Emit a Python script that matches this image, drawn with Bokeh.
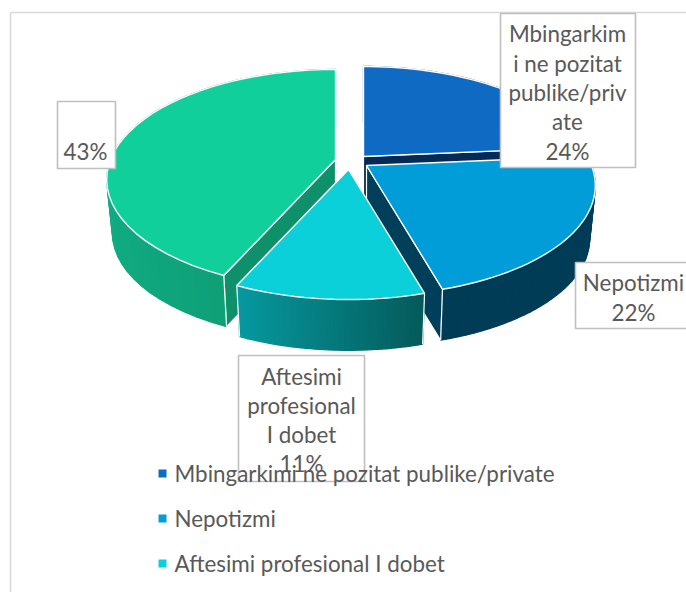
import math
from bokeh.plotting import figure
from bokeh.models import Range1d
from bokeh.core.properties import value
from bokeh.embed import file_html
from bokeh.resources import INLINE

categories = ["Mbingarkimi ne pozitat publike/private", "Nepotizmi", "Aftesimi profesional I dobet", ""]
values = [23.6, 21.9, 11.3, 43.2]
top_colors = ["#0f6ac4", "#009dd9", "#0bd0d9", "#10cf9b"]
face_colors = ["#052a55", "#003f5a", "#04696c", "#0e916b"]
wall_left = ["#0a4a85", "#003c56", "#06999f", "#10ab82"]
wall_right = ["#0a4a85", "#003c56", "#055a5a", "#0d936b"]
legend_items = categories[:3]

FONT = "Lato"
SIZE = "22.4px"
TEXT = "#595959"
W, H = 686, 592

# layout of the exploded slices, in picture pixels
apex = [(363, 156), (366, 165), (348, 169), (335, 159)]
A, B, K = 225.0, 106.4, 0.1818
DEPTH, SHRINK = 54.0, 0.975

p = figure(width=W, height=H, output_backend="svg", toolbar_location=None,
           x_range=Range1d(0, W), y_range=Range1d(H, 0),
           min_border=0, outline_line_color=None, background_fill_color="white",
           border_fill_color="white")
p.axis.visible = False
p.grid.visible = False

# chart frame
p.line([10, 10], [12, H], line_color="#d9d9d9", line_width=1.6)
p.line([10, W], [12, 12], line_color="#d9d9d9", line_width=1.6)


def ring(th, ap, low=False):
    u, v = math.sin(th), -math.cos(th)
    den = 1 - K * v
    x, y = A * u / den, B * v / den
    if low:
        return ap[0] + SHRINK * x, ap[1] + SHRINK * y + DEPTH
    return ap[0] + x, ap[1] + y


def mix(c1, c2, t):
    a = [int(c1[i:i + 2], 16) for i in (1, 3, 5)]
    b = [int(c2[i:i + 2], 16) for i in (1, 3, 5)]
    return "#%02x%02x%02x" % tuple(round(a[i] + (b[i] - a[i]) * t) for i in range(3))


total = sum(values)
spans = []
cum = 0
for val in values:
    spans.append((cum / total * 2 * math.pi, (cum + val) / total * 2 * math.pi))
    cum += val

for i in [0, 3, 1, 2]:
    t0, t1 = spans[i]
    ap = apex[i]
    n = 40
    ths = [t0 + (t1 - t0) * j / n for j in range(n + 1)]
    low_ap = (ap[0], ap[1] + DEPTH)
    # cut faces
    if i in (0, 1, 3):
        th = {0: t1, 1: t1, 3: t0}[i]
        a, b = ring(th, ap), ring(th, ap, True)
        p.patch([ap[0], a[0], b[0], low_ap[0]], [ap[1], a[1], b[1], low_ap[1]],
                fill_color=face_colors[i], line_color="white", line_width=1.2)
    # outer wall, shaded from left to right
    tops = [ring(th, ap) for th in ths]
    lows = [ring(th, ap, True) for th in ths]
    xmin = min(q[0] for q in tops)
    xmax = max(q[0] for q in tops)
    xs, ys, cols = [], [], []
    for j in range(n):
        xs.append([tops[j][0], tops[j + 1][0], lows[j + 1][0], lows[j][0]])
        ys.append([tops[j][1], tops[j + 1][1], lows[j + 1][1], lows[j][1]])
        f = ((tops[j][0] + tops[j + 1][0]) / 2 - xmin) / (xmax - xmin)
        cols.append(mix(wall_left[i], wall_right[i], f))
    p.patches(xs, ys, fill_color=cols, line_color=cols, line_width=1.3)
    # white wall ends
    for th in (t0, t1):
        a, b = ring(th, ap), ring(th, ap, True)
        p.line([a[0], b[0]], [a[1], b[1]], line_color="white", line_width=1.2)
    # top face
    p.patch([ap[0]] + [q[0] for q in tops], [ap[1]] + [q[1] for q in tops],
            fill_color=top_colors[i], line_color="white", line_width=1.4)

# data label boxes
box_l = [500, 575, 238, 57]
box_r = [635, 695, 364, 115]
box_t = [13, 262, 355, 101]
box_b = [167, 328, 481, 168]
p.quad(left=box_l, right=box_r, top=box_t, bottom=box_b,
       fill_color="white", line_color="#bfbfbf", line_width=1.6)

label_lines = ["Mbingarkim", "i ne pozitat", "publike/priv", "ate", "24%",
               "Nepotizmi", "22%",
               "Aftesimi", "profesional", "I dobet", "11%",
               "43%"]
label_x = [567] * 5 + [633] * 2 + [301] * 4 + [85]
label_y = [33, 63, 92, 121, 151, 282, 312, 376, 405, 434, 463, 151]
p.text(x=label_x, y=label_y, text=label_lines, text_align="center", text_baseline="middle",
       text_color=TEXT, text_font=value(FONT), text_font_size=SIZE)

# legend
leg_y = [473, 518, 563]
p.scatter(x=[162] * 3, y=leg_y, marker="square", size=8, fill_color=top_colors[:3], line_color=None)
p.text(x=[174] * 3, y=leg_y, text=legend_items, text_align="left", text_baseline="middle",
       text_color=TEXT, text_font=value(FONT), text_font_size=SIZE)

open("out.html", "w").write(file_html(p, INLINE))
